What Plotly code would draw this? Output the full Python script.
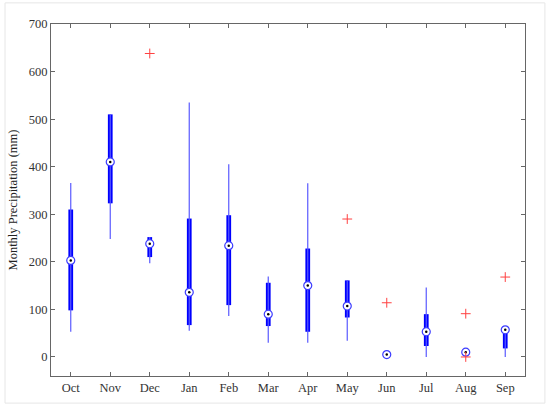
import numpy as np
import plotly.graph_objects as go

months = ["Oct", "Nov", "Dec", "Jan", "Feb", "Mar", "Apr", "May", "Jun", "Jul", "Aug", "Sep"]
whis_lo = [53, 248, 197, 55, 86, 30, 30, 34, 5, 0, 10, 0]
q1 = [98, 323, 210, 67, 109, 65, 53, 83, 4, 23, 8, 18]
medians = [203, 410, 238, 136, 234, 90, 150, 107, 5, 53, 10, 57]
q3 = [310, 510, 252, 291, 298, 156, 228, 161, 6, 90, 12, 57]
whis_hi = [366, 510, 252, 535, 405, 169, 365, 161, 5, 146, 10, 57]

out_months = ["Dec", "May", "Jun", "Aug", "Aug", "Sep"]
out_values = [638, 290, 114, 91, 0, 168]

fig = go.Figure()

# whiskers, one segment per month
wx, wy = [], []
for m, lo, hi in zip(months, whis_lo, whis_hi):
    wx += [m, m, None]
    wy += [lo, hi, None]
fig.add_trace(go.Scatter(x=wx, y=wy, mode="lines",
                         line=dict(color="#5a5aff", width=1.2),
                         hoverinfo="skip", showlegend=False))

# boxes
fig.add_trace(go.Bar(x=months, y=np.array(q3) - np.array(q1), base=q1,
                     width=0.12, marker=dict(color="#0000ff", line=dict(width=0)),
                     showlegend=False))

# medians: open circle with a dot
fig.add_trace(go.Scatter(x=months, y=medians, mode="markers",
                         marker=dict(symbol="circle", size=8, color="white",
                                     line=dict(color="#3b3bff", width=1.2)),
                         showlegend=False))
fig.add_trace(go.Scatter(x=months, y=medians, mode="markers",
                         marker=dict(symbol="circle", size=2.5, color="black"),
                         showlegend=False))

# outliers
fig.add_trace(go.Scatter(x=out_months, y=out_values, mode="markers",
                         marker=dict(symbol="cross-thin", size=7,
                                     line=dict(color="#ff4040", width=1)),
                         showlegend=False))

axis_style = dict(showline=True, linecolor="#666666", linewidth=1, mirror="ticks",
                  ticks="inside", ticklen=4, tickcolor="#666666", showgrid=False,
                  zeroline=False, automargin=False,
                  tickfont=dict(size=12.5, color="#333333"))

fig.update_xaxes(range=[-0.5, 11.5], categoryorder="array", categoryarray=months,
                 **axis_style)
fig.update_yaxes(range=[-40, 700], tickvals=list(range(0, 701, 100)),
                 title=dict(text="Monthly Precipitation (mm)", font=dict(size=12.5, color="#222222"),
                            standoff=8),
                 **axis_style)

fig.update_layout(
    width=550, height=409,
    margin=dict(l=51, r=25, t=24, b=33),
    paper_bgcolor="white", plot_bgcolor="white",
    font=dict(family="Liberation Serif, DejaVu Serif, serif", size=12.5, color="#333333"),
    shapes=[dict(type="rect", xref="paper", yref="paper",
                 x0=-0.097, x1=1.042, y0=-0.077, y1=1.06,
                 line=dict(color="#e6e6e6", width=1), layer="below")],
)

fig.write_html("out.html", config={"displayModeBar": False},
               post_script="document.body.style.margin='0';")
